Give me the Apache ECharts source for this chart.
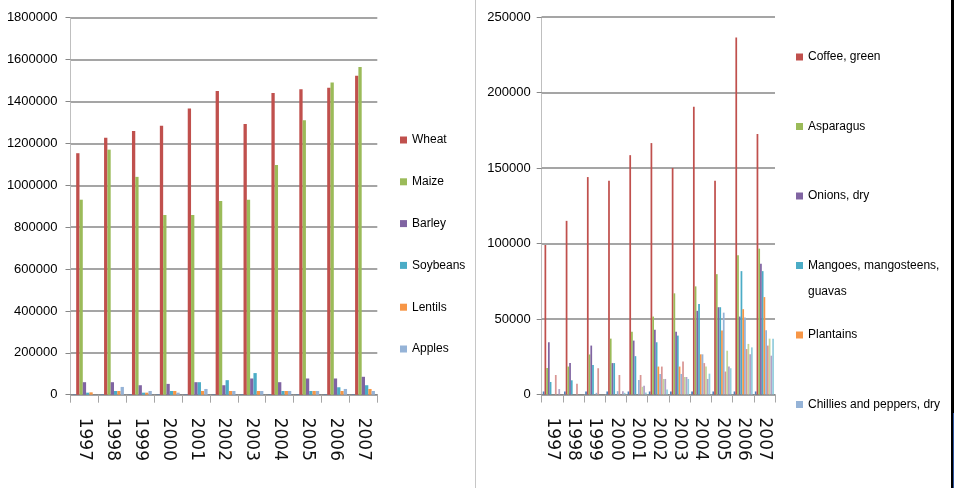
<!DOCTYPE html>
<html>
<head>
<meta charset="utf-8">
<script src="https://cdn.jsdelivr.net/npm/echarts@6/dist/echarts.min.js"></script>
<style>
  html, body { margin: 0; padding: 0; background: #ffffff; }
  #chart { width: 957px; height: 488px; }
</style>
</head>
<body>
<div id="chart"></div>
<script>
// Years on the category axes
const years = ['1997', '1998', '1999', '2000', '2001', '2002', '2003', '2004', '2005', '2006', '2007'];
// The year column is plotted as its own (tiny) series in both panels
const yearValues = [1997, 1998, 1999, 2000, 2001, 2002, 2003, 2004, 2005, 2006, 2007];

// Left panel: imports (tonnes)
const wheat    = [1153000, 1227000, 1259000, 1284000, 1367000, 1450000, 1293000, 1441000, 1458000, 1466000, 1523000];
const maize    = [931000, 1170000, 1040000, 858000, 858000, 925000, 931000, 1097000, 1310000, 1491000, 1565000];
const barley   = [59700, 59700, 45200, 51600, 59700, 45200, 77400, 59700, 77400, 77400, 85500];
const soybeans = [9700, 17700, 9700, 17700, 59700, 69400, 103200, 17700, 17700, 35500, 45200];
const lentils  = [11300, 17700, 9700, 17700, 17700, 17700, 17700, 17700, 17700, 17700, 27400];
const apples   = [0, 37100, 17700, 9700, 27400, 17700, 17700, 17700, 17700, 27400, 17700];
const importNames = ['Wheat', 'Maize', 'Barley', 'Soybeans', 'Lentils', 'Apples'];
const importTicks = { min: 0, max: 1800000, step: 200000 };

// Right panel: exports (tonnes)
const coffee    = [99000, 115000, 144000, 141500, 158500, 166500, 150000, 190500, 141500, 236500, 172500];
const asparagus = [17500, 18500, 26500, 37000, 41500, 51600, 67000, 71600, 79700, 92200, 96600];
const onions    = [34600, 20800, 32400, 20800, 35700, 42900, 41500, 55400, 57800, 51600, 86600];
const mangoes   = [8300, 9400, 19600, 20800, 25400, 34600, 39000, 60000, 57800, 81700, 81700];
const plantains = [0, 0, 0, 0, 0, 18500, 18500, 26600, 42400, 56500, 64500];
const chillies  = [0, 0, 1100, 2200, 9600, 13600, 13600, 26600, 54200, 51000, 42600];
// further export series whose legend entries fall outside the frame
const exportMore1 = [12900, 7100, 17400, 12900, 12900, 18500, 21900, 20800, 15200, 30100, 32400];
const exportMore2 = [0, 0, 0, 0, 5100, 10300, 11600, 18500, 29000, 33500, 37000];
const exportMore3 = [3600, 0, 0, 2200, 5800, 10300, 11600, 10300, 18500, 26600, 25700];
const exportMore4 = [0, 0, 0, 1100, 1300, 3300, 10300, 13800, 17400, 31200, 37000];
const exportNames = ['Coffee, green', 'Asparagus', 'Onions, dry', 'Mangoes, mangosteens, guavas', 'Plantains', 'Chillies and peppers, dry'];
const exportTicks = { min: 0, max: 250000, step: 50000 };

// Office-style palette
const yearColor = '#4F81BD';
const mainColors = ['#C0504D', '#9BBB59', '#8064A2', '#4BACC6', '#F79646', '#95B3D7'];
const lightColors = ['#D99694', '#C3D69B', '#B3A2C7', '#93CDDD'];

const sans = "'Liberation Sans', Arial, sans-serif";
const gridColor = '#878787';

function bar(name, data, color, axis, gap) {
  const s = {
    type: 'bar',
    data: data,
    xAxisIndex: axis,
    yAxisIndex: axis,
    barGap: '0%',
    barCategoryGap: gap,
    itemStyle: { color: color },
    emphasis: { disabled: true }
  };
  if (name) s.name = name;
  return s;
}

function catAxis(gridIndex) {
  return {
    type: 'category',
    gridIndex: gridIndex,
    data: years,
    boundaryGap: true,
    axisLine: { show: true, lineStyle: { color: gridColor, width: 1 } },
    axisTick: { show: true, length: 8, lineStyle: { color: '#a6a6a6' } },
    axisLabel: { interval: 0, rotate: -90, margin: 23, fontFamily: 'DejaVu Sans', fontSize: 17, color: '#111' }
  };
}

function valAxis(gridIndex, t, margin) {
  return {
    type: 'value',
    gridIndex: gridIndex,
    min: t.min, max: t.max, interval: t.step,
    axisLine: { show: true, lineStyle: { color: '#bfbfbf' } },
    axisTick: { show: true, length: 5, lineStyle: { color: gridColor } },
    axisLabel: { margin: margin, fontFamily: sans, fontSize: 13, color: '#000', formatter: v => String(v) },
    splitLine: { show: true, lineStyle: { color: gridColor, width: 1.5 } }
  };
}

const leftGap = '17%';
const rightGap = '10%';
const importData = [wheat, maize, barley, soybeans, lentils, apples];
const exportData = [coffee, asparagus, onions, mangoes, plantains, chillies];
const exportMore = [exportMore1, exportMore2, exportMore3, exportMore4];

const series = [];
series.push(bar('Year', yearValues, yearColor, 0, leftGap));
importNames.forEach((n, i) => series.push(bar(n, importData[i], mainColors[i], 0, leftGap)));
series.push(bar('Year', yearValues, yearColor, 1, rightGap));
exportNames.forEach((n, i) => series.push(bar(n, exportData[i], mainColors[i], 1, rightGap)));
exportMore.forEach((d, i) => series.push(bar(null, d, lightColors[i], 1, rightGap)));

const legendText = { fontFamily: sans, fontSize: 12, lineHeight: 16, color: '#000' };

const chart = echarts.init(document.getElementById('chart'), null, { renderer: 'canvas' });
chart.setOption({
  animation: false,
  backgroundColor: '#ffffff',
  grid: [
    { left: 70.5, right: 579.7, top: 17.7, bottom: 93.3, outerBoundsMode: 'none', containLabel: false },
    { left: 541.7, right: 182, top: 17, bottom: 93.5, outerBoundsMode: 'none', containLabel: false }
  ],
  xAxis: [catAxis(0), catAxis(1)],
  yAxis: [valAxis(0, importTicks, 13), valAxis(1, exportTicks, 11)],
  legend: [
    {
      data: importNames,
      orient: 'vertical',
      left: 400, top: 132, padding: 0,
      itemWidth: 7, itemHeight: 7, icon: 'rect',
      itemGap: 25.8,
      selectedMode: false,
      textStyle: legendText
    },
    {
      data: exportNames,
      orient: 'vertical',
      left: 796, top: 49, padding: 0,
      itemWidth: 7, itemHeight: 7, icon: 'rect',
      itemGap: 53.5,
      selectedMode: false,
      formatter: name => name === 'Mangoes, mangosteens, guavas' ? 'Mangoes, mangosteens,' : name,
      textStyle: legendText
    }
  ],
  graphic: [
    // second line of the wrapped legend entry
    { type: 'text', left: 808, top: 286, style: { text: 'guavas', font: '12px ' + sans, fill: '#000' } },
    // divider between the two panels
    { type: 'line', shape: { x1: 475.5, y1: 0, x2: 475.5, y2: 488 }, style: { stroke: '#c6c6c6', lineWidth: 1 } },
    // frame edge on the right
    { type: 'line', shape: { x1: 952.5, y1: 0, x2: 952.5, y2: 488 }, style: { stroke: '#000000', lineWidth: 3 } },
    { type: 'line', shape: { x1: 953.5, y1: 413, x2: 953.5, y2: 488 }, style: { stroke: '#2f55a0', lineWidth: 1 } }
  ],
  series: series
});
</script>
</body>
</html>
